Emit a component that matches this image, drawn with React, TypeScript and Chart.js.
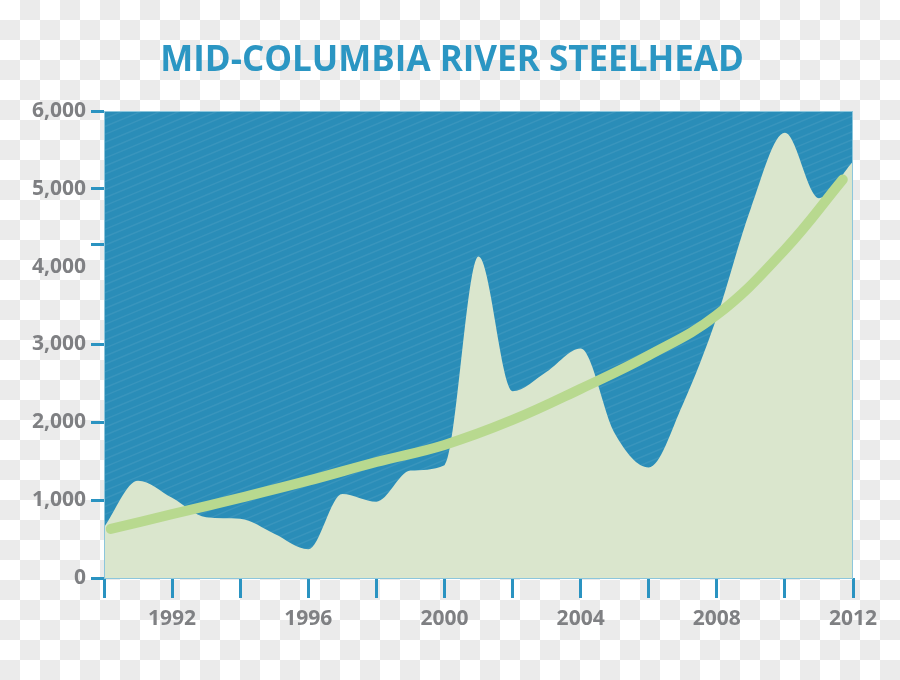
import { useEffect, useRef } from 'react';
import { Chart, registerables } from 'chart.js';

Chart.register(...registerables);

const TITLE = 'MID-COLUMBIA RIVER STEELHEAD';

// Annual steelhead counts
const YEARS = [1990, 1991, 1992, 1993, 1994, 1995, 1996, 1997, 1998, 1999, 2000, 2001, 2002, 2003, 2004, 2005, 2006, 2007, 2008, 2009, 2010, 2011, 2012];
const COUNTS = [650, 1250, 1030, 780, 760, 570, 370, 1080, 980, 1380, 1450, 4130, 2400, 2650, 2950, 1860, 1420, 2230, 3350, 4750, 5720, 4880, 5350];

// Trend curve
const TREND_YEARS = [1990.2, 1992, 1994, 1996, 1998, 2000, 2002, 2004, 2006, 2008, 2010, 2011.7];
const TREND_VALUES = [630, 820, 1030, 1250, 1490, 1710, 2030, 2430, 2860, 3380, 4220, 5120];

// Axes
const X_TICKS = [1990, 1992, 1994, 1996, 1998, 2000, 2002, 2004, 2006, 2008, 2010, 2012];
const X_LABELS = [1992, 1996, 2000, 2004, 2008, 2012];
const Y_LABELS = [0, 1000, 2000, 3000, 4000, 5000, 6000];
const Y_TICK_MARKS = [0, 1000, 2000, 3000, 4280, 5000, 6000];

const BLUE = '#2a8db8';
const TICK_BLUE = '#2a93c1';
const TITLE_BLUE = '#2b96c3';
const AREA_GREEN = '#dae6cd';
const TREND_GREEN = '#b8d98f';
const LABEL_GRAY = '#7f8083';

const plotBackground = {
  id: 'plotBackground',
  beforeDatasetsDraw(chart: any) {
    const { ctx, chartArea } = chart;
    const { left, top, right, bottom } = chartArea;
    const w = right - left;
    const h = bottom - top;
    ctx.save();
    ctx.fillStyle = BLUE;
    ctx.fillRect(left, top, w, h);
    ctx.beginPath();
    ctx.rect(left, top, w, h);
    ctx.clip();
    ctx.strokeStyle = 'rgba(255,255,255,0.07)';
    ctx.lineWidth = 1.5;
    const slope = 2.4;
    for (let x0 = left - h * slope; x0 < right; x0 += 19) {
      ctx.beginPath();
      ctx.moveTo(x0, bottom);
      ctx.lineTo(x0 + h * slope, top);
      ctx.stroke();
    }
    ctx.restore();
  },
  afterDatasetsDraw(chart: any) {
    const { ctx, chartArea } = chart;
    ctx.save();
    ctx.strokeStyle = '#8cc6dc';
    ctx.lineWidth = 1;
    ctx.strokeRect(chartArea.left + 0.5, chartArea.top + 0.5, chartArea.right - chartArea.left - 1, chartArea.bottom - chartArea.top);
    ctx.restore();
  },
};

export default function App() {
  const canvasRef = useRef<HTMLCanvasElement | null>(null);

  useEffect(() => {
    const canvas = canvasRef.current;
    if (!canvas) return;
    const yTickValues = Array.from(new Set([...Y_LABELS, ...Y_TICK_MARKS])).sort((a, b) => a - b);

    const chart = new Chart(canvas, {
      type: 'line',
      data: {
        datasets: [
          {
            label: 'Trend',
            data: TREND_YEARS.map((x, i) => ({ x, y: TREND_VALUES[i] })),
            borderColor: TREND_GREEN,
            borderWidth: 10,
            borderCapStyle: 'round',
            borderJoinStyle: 'round',
            pointRadius: 0,
            fill: false,
            tension: 0.4,
          },
          {
            label: 'Steelhead',
            data: YEARS.map((x, i) => ({ x, y: COUNTS[i] })),
            borderWidth: 0,
            borderColor: AREA_GREEN,
            backgroundColor: AREA_GREEN,
            pointRadius: 0,
            fill: 'origin',
            cubicInterpolationMode: 'monotone',
          },
        ],
      },
      options: {
        responsive: false,
        animation: false,
        events: [],
        layout: { padding: { left: 0, right: 47, top: 111, bottom: 0 } },
        plugins: {
          legend: { display: false },
          tooltip: { enabled: false },
          title: { display: false },
        },
        scales: {
          x: {
            type: 'linear',
            min: 1990,
            max: 2012,
            afterBuildTicks: (scale: any) => {
              scale.ticks = X_TICKS.map((v) => ({ value: v }));
            },
            afterFit: (scale: any) => {
              scale.height = 102;
            },
            border: { display: false },
            grid: {
              drawOnChartArea: false,
              drawTicks: true,
              tickLength: 20,
              tickWidth: 3,
              tickColor: TICK_BLUE,
            },
            ticks: {
              autoSkip: false,
              maxRotation: 0,
              padding: 8,
              color: LABEL_GRAY,
              font: { family: '"Open Sans", sans-serif', size: 21, weight: 'bold' },
              callback: (v: any) => (X_LABELS.includes(Number(v)) ? String(v) : ''),
            },
          },
          y: {
            type: 'linear',
            min: 0,
            max: 6000,
            afterBuildTicks: (scale: any) => {
              scale.ticks = yTickValues.map((v) => ({ value: v }));
            },
            afterFit: (scale: any) => {
              scale.width = 104;
            },
            border: { display: false },
            grid: {
              drawOnChartArea: false,
              drawTicks: true,
              tickLength: 13,
              tickWidth: 3,
              tickColor: (ctx: any) => (Y_TICK_MARKS.includes(ctx.tick?.value) ? TICK_BLUE : 'rgba(0,0,0,0)'),
            },
            ticks: {
              autoSkip: false,
              padding: 5,
              color: LABEL_GRAY,
              font: { family: '"Open Sans", sans-serif', size: 21, weight: 'bold' },
              callback: (v: any) => (Y_LABELS.includes(Number(v)) ? Number(v).toLocaleString('en-US') : ''),
            },
          },
        },
      },
      plugins: [plotBackground],
    });

    return () => chart.destroy();
  }, []);

  return (
    <div
      style={{
        position: 'fixed',
        left: 0,
        top: 0,
        width: 900,
        height: 680,
        background: 'repeating-conic-gradient(#ebebeb 0% 25%, #ffffff 0% 50%) 0 0 / 40px 40px',
      }}
    >
      <canvas ref={canvasRef} width={900} height={680} style={{ display: 'block' }} />
      <div
        style={{
          position: 'absolute',
          left: 0,
          top: 37,
          width: 904,
          textAlign: 'center',
          fontFamily: '"Open Sans", sans-serif',
          fontWeight: 700,
          fontSize: 35,
          lineHeight: '42px',
          color: TITLE_BLUE,
          whiteSpace: 'nowrap',
        }}
      >
        {TITLE}
      </div>
    </div>
  );
}
